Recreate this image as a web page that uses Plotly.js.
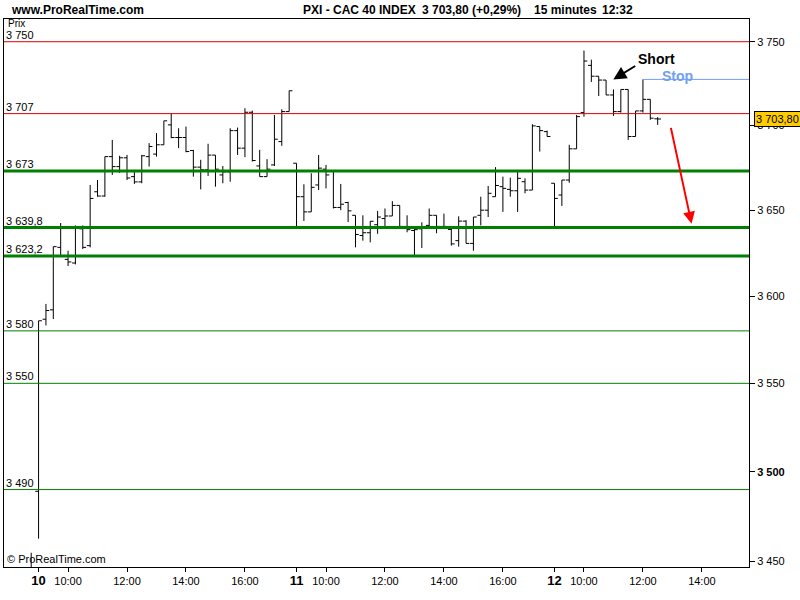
<!DOCTYPE html>
<html>
<head>
<meta charset="utf-8">
<script src="https://cdn.plot.ly/plotly-3.0.1.min.js"></script>
<style>html,body{margin:0;padding:0;background:#fff;}#chart{width:800px;height:600px;}</style>
</head>
<body>
<div id="chart"></div>
<script>
// ---- 15-minute bars, CAC 40 (index -1 = last bar of previous session, only its top visible)
const barOpen = [3446,
 3489,3586.7,3592.1,3628.3,3621.3,3619.2,3639.1,3629.3,3660.8,3658.3,
 3681.5,3675.6,3680.8,3669.7,3666.6,3681.5,3683.0,3688.5,3700.3,3692.8,
 3692.8,3685.1,3675.3,3673.7,3682.4,3670.7,3672.5,3696.9,3686.5,3707.8,
 3676.0,3669.7,3676.6,3690.4,3708.2,
 3677.6,3657.9,3649.0,3664.8,3674.1,3673.2,3651.6,3654.5,3647.0,3635.2,
 3636.8,3641.5,3645.1,3646.6,3652.8,3640.5,3638.1,3639.1,3641.1,3647.0,
 3640.5,3638.7,3632.2,3643.6,3630.6,3647.0,3650.0,3657.9,3663.8,3662.2,
 3661.4,3666.7,3661.8,3699.3,3696.3,
 3665.8,3658.9,3667.7,3686.1,3707.6,3735.8,3729.3,3727.0,3718.1,3708.2,
 3721.4,3693.4,3708.6,3715.5,3703.9];
const barHigh = [3454.8,
 3585.8,3595.5,3628.7,3642.5,3626.3,3641.1,3641.1,3664.8,3667.7,3681.5,
 3691.4,3682.0,3682.5,3673.7,3682.5,3689.5,3695.4,3702.7,3707.2,3698.3,
 3699.3,3685.5,3679.6,3689.1,3682.4,3676.0,3698.3,3698.7,3710.2,3708.8,
 3685.5,3680.0,3706.2,3709.6,3720.6,
 3677.6,3665.2,3671.7,3682.5,3676.6,3673.2,3665.4,3654.9,3647.0,3647.0,
 3643.5,3649.6,3651.0,3655.3,3652.8,3647.0,3639.1,3642.9,3651.0,3647.0,
 3648.0,3639.1,3646.4,3644.1,3646.0,3657.9,3664.2,3675.3,3669.7,3669.1,
 3672.7,3668.7,3700.7,3699.3,3696.9,
 3665.8,3667.7,3688.5,3706.2,3744.7,3739.2,3729.3,3727.0,3721.4,3721.4,
 3721.4,3708.6,3727.4,3715.5,3704.9];
const barLow = [3440,
 3462.6,3583.1,3586.8,3622.7,3617.4,3618.4,3627.3,3628.3,3657.9,3657.9,
 3670.7,3671.9,3667.7,3665.4,3665.8,3675.6,3681.5,3688.5,3692.4,3686.5,
 3684.1,3669.7,3662.2,3670.1,3663.8,3665.8,3666.7,3682.5,3681.2,3678.6,
 3669.7,3669.7,3676.0,3687.9,3708.2,
 3640.1,3643.7,3649.0,3661.8,3662.8,3651.0,3650.0,3643.1,3628.3,3632.2,
 3631.2,3636.2,3639.1,3646.6,3640.5,3637.1,3623.3,3627.9,3639.1,3636.5,
 3640.5,3629.3,3628.7,3630.6,3626.3,3641.1,3646.0,3657.9,3649.0,3657.9,
 3649.0,3659.9,3661.8,3684.5,3693.4,
 3639.1,3652.5,3666.1,3686.1,3705.2,3725.9,3717.5,3718.1,3705.6,3707.6,
 3691.4,3693.4,3707.6,3703.3,3700.3];
const barClose = [3446,
 3585.8,3591.7,3628.7,3623.3,3619.8,3639.9,3628.3,3656.9,3658.3,3681.5,
 3675.6,3680.8,3668.9,3666.6,3682.0,3687.5,3688.5,3702.7,3692.8,3692.8,
 3684.5,3675.3,3673.7,3682.4,3674.1,3672.5,3696.9,3686.5,3707.8,3679.2,
 3669.7,3674.1,3691.8,3708.2,3720.6,
 3657.9,3649.0,3663.4,3674.7,3670.7,3651.6,3653.5,3649.6,3635.8,3636.8,
 3643.5,3646.0,3646.6,3652.8,3640.5,3638.6,3638.6,3639.3,3647.0,3640.5,
 3640.5,3630.3,3643.6,3630.6,3646.0,3650.0,3659.9,3664.5,3662.8,3661.4,
 3668.7,3661.8,3699.7,3696.9,3693.4,
 3656.9,3667.7,3686.1,3705.2,3738.4,3729.3,3727.0,3718.1,3708.2,3721.4,
 3693.4,3708.6,3715.5,3704.3,3703.8];
const firstBarIndex = -1;

// ---- time axis
const tickIdx    = [0, 4, 12, 20, 28, 35, 39, 47, 55, 63, 70, 74, 82, 90];
const tickLabels = ['10','10:00','12:00','14:00','16:00','11','10:00','12:00','14:00','16:00','12','10:00','12:00','14:00'];
const dayLabels  = ['10','11','12'];

// ---- price axis
const priceTicks  = [3450, 3500, 3550, 3600, 3650, 3700, 3750];
const priceLabels = ['3 450','3 500','3 550','3 600','3 650','3 700','3 750'];
const boldPrice   = 3500;

// ---- drawn levels
const redLevels        = [3750, 3707];
const redLevelLabels   = ['3 750', '3 707'];
const greenThick       = [3673, 3639.8, 3623.2];
const greenThickLabels = ['3 673', '3 639,8', '3 623,2'];
const greenThin        = [3580, 3550, 3490];
const greenThinLabels  = ['3 580', '3 550', '3 490'];
const stopLevel = 3727.4;
const stopFromBar = 82;
const lastPrice = 3703.80;
const lastPriceText = '3 703,80';

// ---- layout geometry
const X0 = -4.69, X1 = 96.39;
const Y0 = 3446.9, Y1 = 3763.7;
const FONT = 'Liberation Sans, Arial, sans-serif';

const xs = barOpen.map((_, k) => k + firstBarIndex);

const traces = [];
traces.push({
  type: 'ohlc', x: xs, open: barOpen, high: barHigh, low: barLow, close: barClose,
  increasing: {line: {color: '#000', width: 1}},
  decreasing: {line: {color: '#000', width: 1}},
  tickwidth: 0.45, hoverinfo: 'skip', showlegend: false
});
function hline(level, color, width, xstart) {
  traces.push({type: 'scatter', mode: 'lines', x: [xstart, X1 + 5], y: [level, level],
    line: {color: color, width: width}, hoverinfo: 'skip', showlegend: false});
}
redLevels.forEach(v => hline(v, '#dd0000', 1, X0 - 5));
greenThin.forEach(v => hline(v, '#008000', 1, X0 - 5));
greenThick.forEach(v => hline(v, '#008000', 3, X0 - 5));
hline(stopLevel, '#6f9ef5', 1, stopFromBar);

const L10 = Math.log10;
const annotations = [];
function levelLabel(v, t) {
  annotations.push({xref: 'paper', yref: 'y', x: 0, y: L10(v), xanchor: 'left', yanchor: 'bottom',
    xshift: 1, yshift: 0, borderpad: 0, text: t, showarrow: false, font: {family: FONT, size: 11, color: '#000'}});
}
redLevels.forEach((v, k) => levelLabel(v, redLevelLabels[k]));
greenThick.forEach((v, k) => levelLabel(v, greenThickLabels[k]));
greenThin.forEach((v, k) => levelLabel(v, greenThinLabels[k]));

// header
const hy = (567 - 10) / 548;
function px(x) { return (x - 4) / 745; }
function header(x, t) {
  annotations.push({xref: 'paper', yref: 'paper', x: px(x), y: hy, xanchor: 'left', yanchor: 'middle',
    text: '<b>' + t + '</b>', showarrow: false, font: {family: FONT, size: 12, color: '#000'}});
}
header(9, 'www.ProRealTime.com');
header(301, 'PXI - CAC 40 INDEX');
header(420, '3 703,80 (+0,29%)');
header(532, '15 minutes');
header(600, '12:32');
annotations.push({xref: 'paper', yref: 'paper', x: px(7), y: (567 - 23.5) / 548, xanchor: 'left', yanchor: 'middle',
  borderpad: 0, text: 'Prix', showarrow: false, font: {family: FONT, size: 10, color: '#000'}});
annotations.push({xref: 'paper', yref: 'paper', x: px(5), y: 0, xanchor: 'left', yanchor: 'bottom',
  text: '© ProRealTime.com', showarrow: false, font: {family: FONT, size: 11, color: '#000'}});

// last price box
annotations.push({xref: 'paper', yref: 'y', x: 1, y: L10(lastPrice), xanchor: 'left', yanchor: 'middle', xshift: 5,
  text: lastPriceText, showarrow: false, bgcolor: '#ffcc00', bordercolor: '#000', borderwidth: 1, borderpad: 1,
  font: {family: FONT, size: 11, color: '#000'}});

// drawing: Short arrow, Stop, target arrow
annotations.push({xref: 'x', yref: 'y', x: 83.87, y: L10(3739.4), xanchor: 'center', yanchor: 'middle',
  text: '<b>Short</b>', showarrow: false, font: {family: FONT, size: 14, color: '#000'}});
annotations.push({xref: 'x', yref: 'y', x: 77.98, y: L10(3727.4), ax: 23.4, ay: -14.3, text: '',
  showarrow: true, arrowhead: 2, arrowsize: 1.3, arrowwidth: 2, arrowcolor: '#000'});
annotations.push({xref: 'x', yref: 'y', x: 86.72, y: L10(3729.6), xanchor: 'center', yanchor: 'middle',
  text: '<b>Stop</b>', showarrow: false, font: {family: FONT, size: 14, color: '#6f9ef5'}});
annotations.push({xref: 'x', yref: 'y', x: 88.6, y: L10(3642.1), ax: -21, ay: -97.3, text: '',
  showarrow: true, arrowhead: 2, arrowsize: 1.2, arrowwidth: 2, arrowcolor: '#ff0000'});

const xText = tickLabels.map(t => dayLabels.includes(t) ? '<b><span style="font-size:13px">' + t + '</span></b>' : t);
const yText = priceLabels.map((t, k) => priceTicks[k] === boldPrice ? '<b>' + t + '</b>' : t);

const layout = {
  width: 800, height: 600,
  margin: {l: 4, r: 51, t: 19, b: 33, pad: 0},
  paper_bgcolor: '#fff', plot_bgcolor: '#fff',
  font: {family: FONT, size: 11, color: '#000'},
  showlegend: false, hovermode: false, dragmode: false,
  xaxis: {type: 'linear', range: [X0, X1], showgrid: false, zeroline: false,
    showline: true, linecolor: '#000', linewidth: 1, mirror: true,
    ticks: 'outside', ticklen: 4, tickcolor: '#000', tickwidth: 1,
    tickmode: 'array', tickvals: tickIdx, ticktext: xText,
    tickfont: {family: FONT, size: 11, color: '#000'},
    rangeslider: {visible: false}, fixedrange: true},
  yaxis: {type: 'log', side: 'right', range: [L10(Y0), L10(Y1)], showgrid: false, zeroline: false,
    showline: true, linecolor: '#000', linewidth: 1, mirror: true,
    ticks: 'outside', ticklen: 5, tickcolor: '#000', tickwidth: 1,
    tickmode: 'array', tickvals: priceTicks, ticktext: yText,
    tickfont: {family: FONT, size: 11, color: '#000'}, fixedrange: true},
  annotations: annotations
};

Plotly.newPlot('chart', traces, layout, {staticPlot: true, displayModeBar: false});
</script>
</body>
</html>
